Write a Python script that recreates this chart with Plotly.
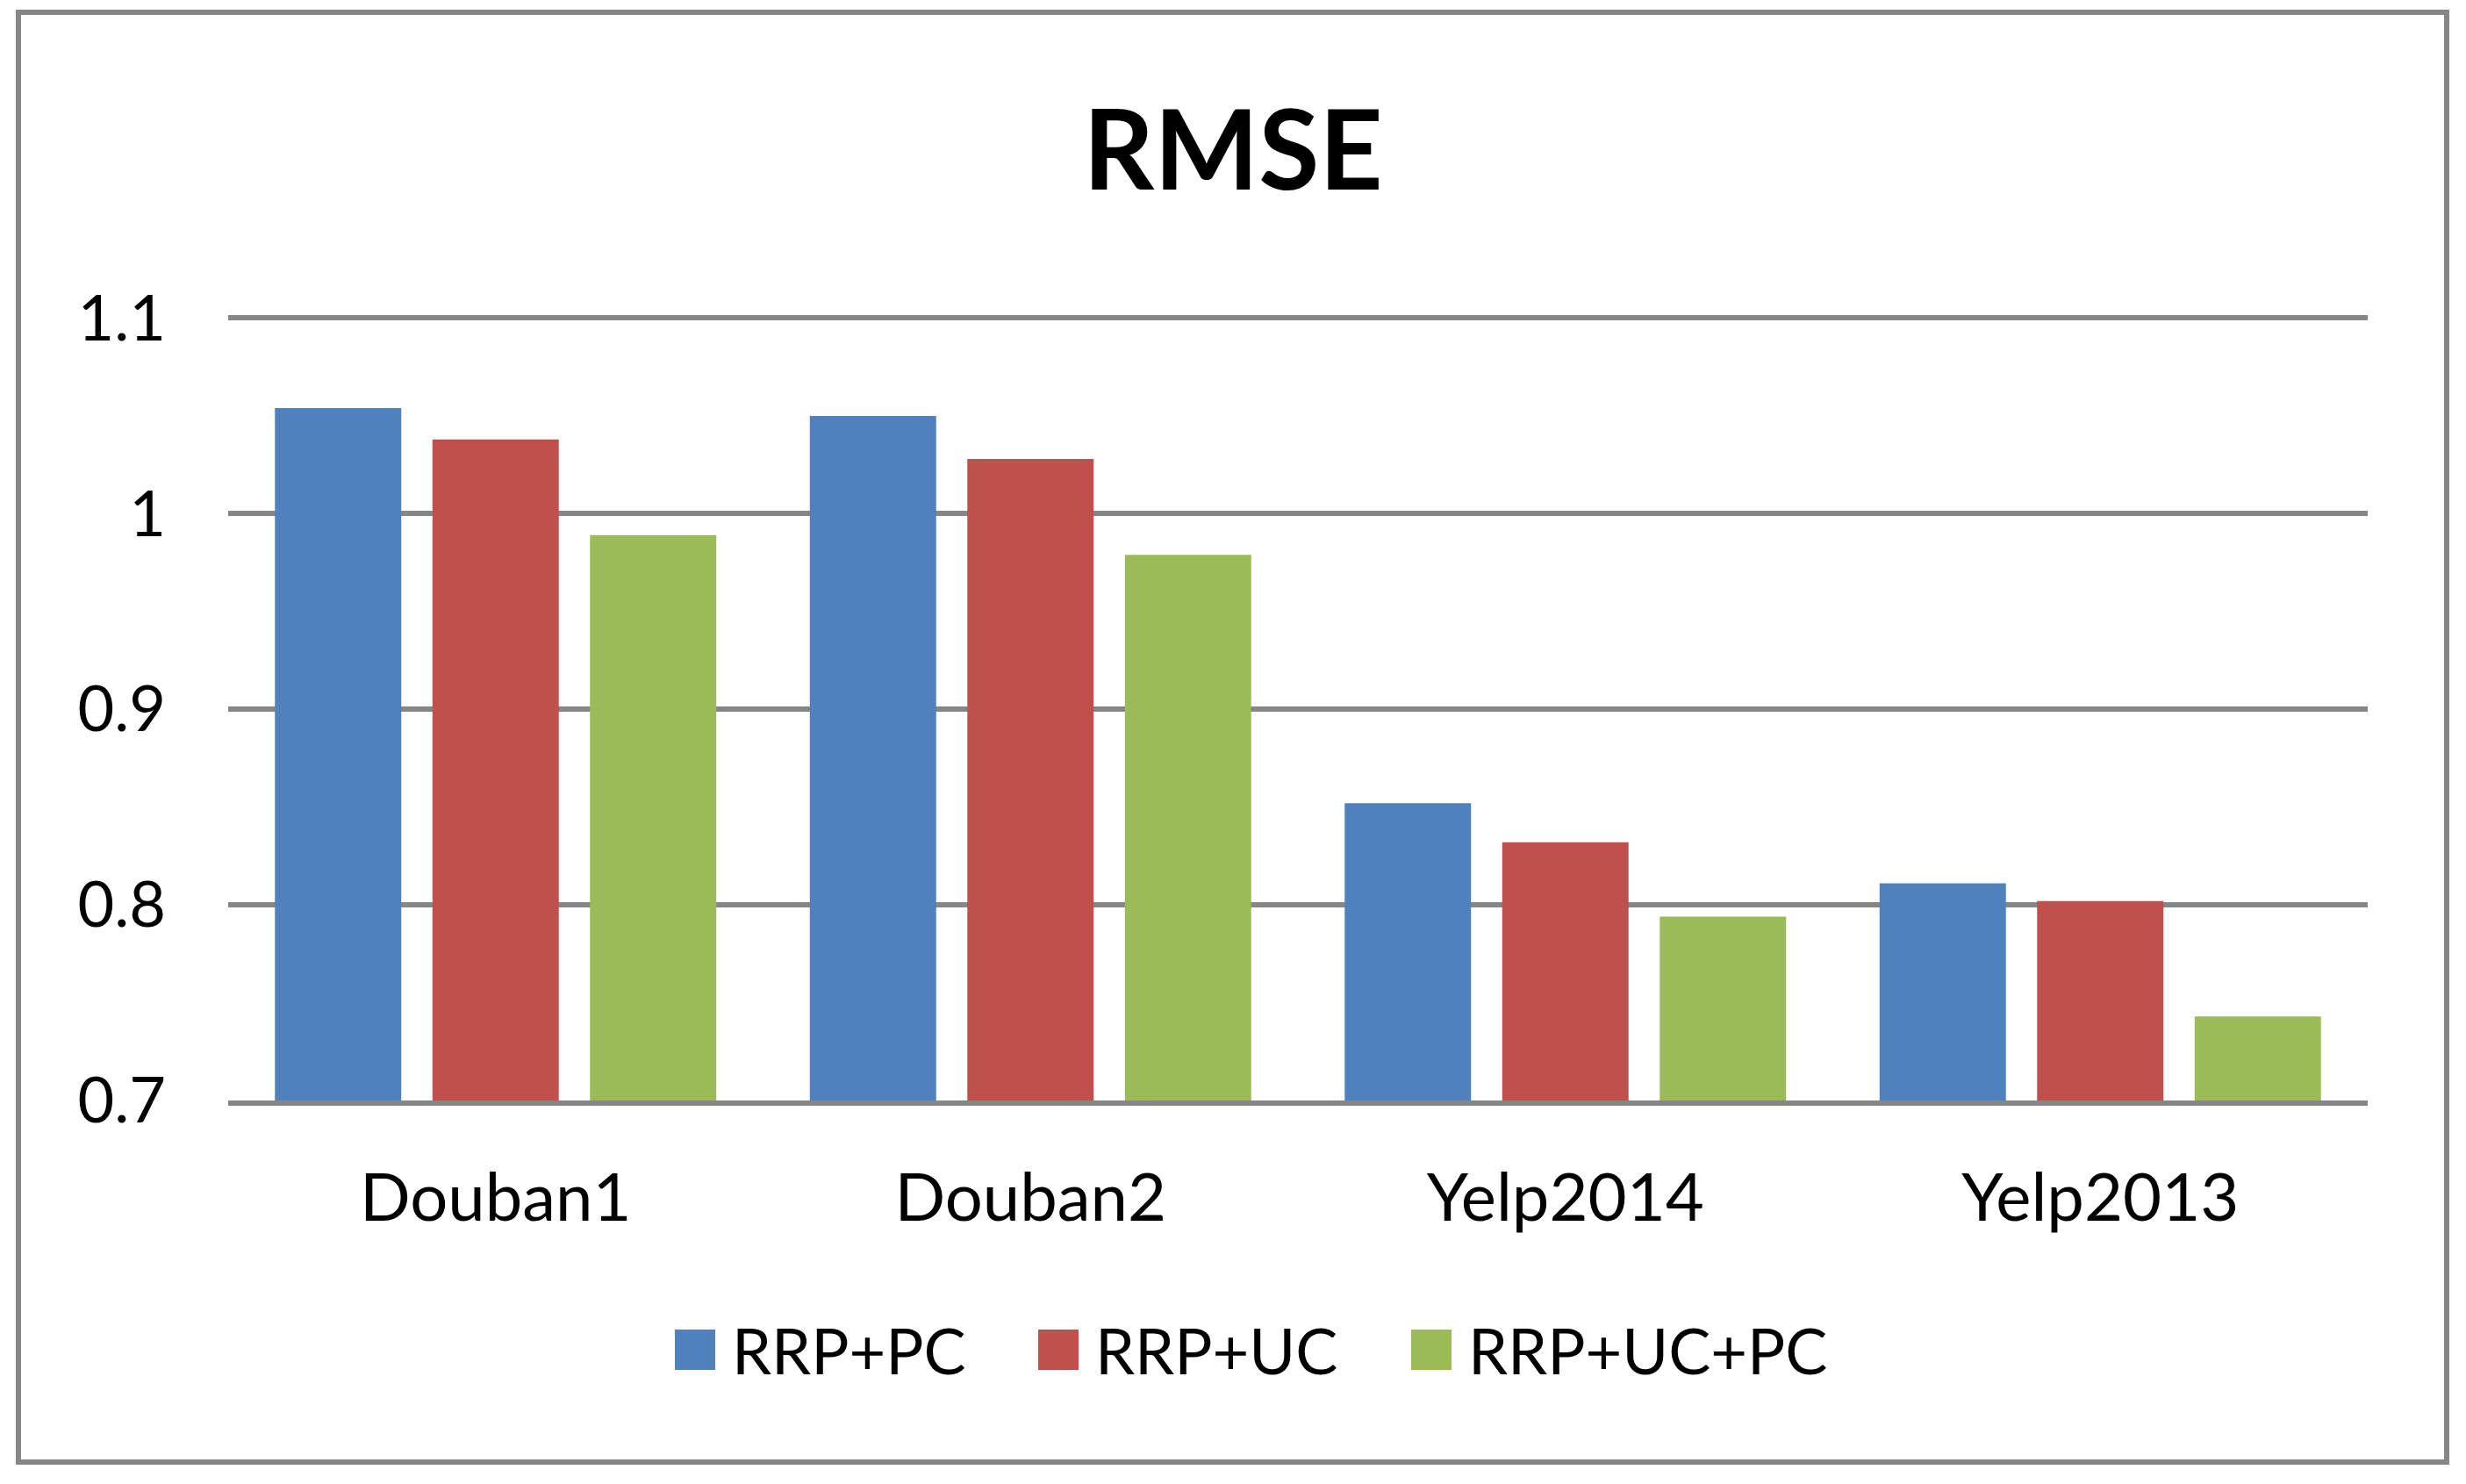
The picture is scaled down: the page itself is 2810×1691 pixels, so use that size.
import plotly.graph_objects as go

categories = ["Douban1", "Douban2", "Yelp2014", "Yelp2013"]
series_names = ["RRP+PC", "RRP+UC", "RRP+UC+PC"]
rrp_pc = [1.054, 1.050, 0.852, 0.811]
rrp_uc = [1.038, 1.028, 0.832, 0.802]
rrp_uc_pc = [0.989, 0.979, 0.794, 0.743]
y_ticks = [0.7, 0.8, 0.9, 1.0, 1.1]
y_tick_labels = ["0.7", "0.8", "0.9", "1", "1.1"]
colors = ["#4F81BD", "#C0504D", "#9BBB59"]

W, H = 2810, 1691
Y_TOP = 1.102
L, R, T, B = 260, 2810 - 2698, 358, 1691 - 1254
PW, PH = W - L - R, H - T - B
FONT = "Lato"
GRID = "#868686"


def px_x(x):
    return (x - L) / PW


def px_y(y):
    return (H - B - y) / PH


fig = go.Figure()
for name, vals, col in zip(series_names, [rrp_pc, rrp_uc, rrp_uc_pc], colors):
    fig.add_trace(go.Bar(x=categories, y=vals, name=name, marker=dict(color=col, line=dict(width=0))))

fig.update_layout(
    width=W, height=H,
    margin=dict(l=L, r=R, t=T, b=B),
    paper_bgcolor="white", plot_bgcolor="white",
    barmode="group", bargap=0.1165, bargroupgap=0.198,
    showlegend=False,
    font=dict(family=FONT, color="black"),
    title=dict(text="<b>RMSE</b>", x=0.5, xanchor="center", y=1 - 172 / H, yanchor="middle",
               font=dict(family=FONT, size=126, color="black")),
)
fig.update_yaxes(range=[0.7, Y_TOP], tickvals=y_ticks, ticktext=y_tick_labels,
                 showgrid=True, gridcolor=GRID, gridwidth=6, zeroline=False,
                 showline=False, ticks="", tickfont=dict(size=72), ticklabelstandoff=70)
fig.update_xaxes(showgrid=False, showline=True, linecolor=GRID, linewidth=6,
                 ticks="", tickfont=dict(size=76), ticklabelstandoff=40)

# outer chart border
fig.add_shape(type="rect", xref="paper", yref="paper",
              x0=px_x(21), x1=px_x(2788), y0=px_y(1666), y1=px_y(14),
              line=dict(color=GRID, width=6), fillcolor="rgba(0,0,0,0)", layer="above")

# legend (manual, large square swatches)
sq_left = [769, 1183, 1608]
sq_size = 46
leg_cy = 1538
for name, col, x0 in zip(series_names, colors, sq_left):
    fig.add_shape(type="rect", xref="paper", yref="paper",
                  x0=px_x(x0), x1=px_x(x0 + sq_size),
                  y0=px_y(leg_cy + sq_size / 2), y1=px_y(leg_cy - sq_size / 2),
                  line=dict(width=0), fillcolor=col)
    fig.add_annotation(xref="paper", yref="paper", x=px_x(x0 + sq_size + 17), y=px_y(leg_cy),
                       text=name, showarrow=False, xanchor="left", yanchor="middle",
                       font=dict(family=FONT, size=72, color="black"))

fig.write_html("out.html", config={"displayModeBar": False},
               post_script="document.body.style.margin='0';document.body.style.overflow='hidden';")
